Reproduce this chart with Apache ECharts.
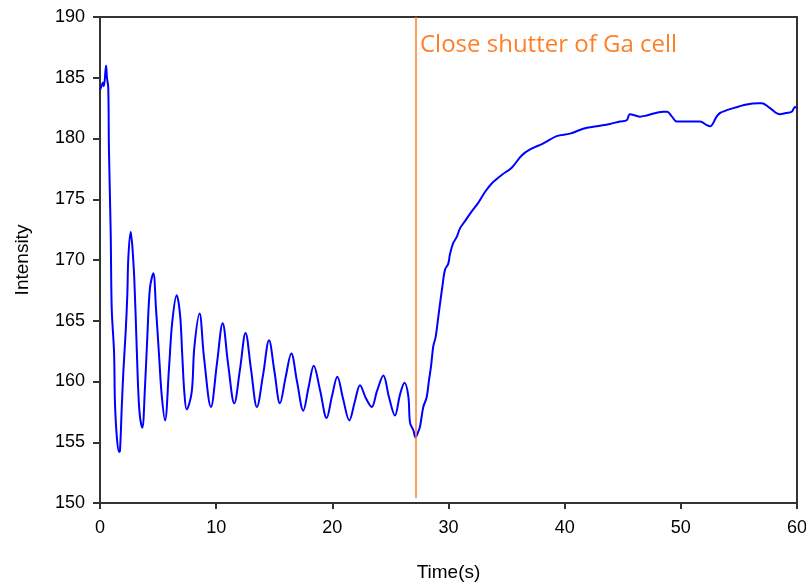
<!DOCTYPE html>
<html>
<head>
<meta charset="utf-8">
<script src="https://cdn.jsdelivr.net/npm/echarts@6/dist/echarts.min.js"></script>
<style>html,body{margin:0;padding:0;background:#fff}#c{width:806px;height:587px}</style>
</head>
<body>
<div id="c"></div>
<script>
const timeS = [0,0.09,0.26,0.34,0.52,0.60,0.71,0.77,0.92,1.01,1.21,1.29,1.46,1.64,1.72,1.87,2.01,2.21,2.35,2.44,2.64,2.71,2.78,2.95,3.16,3.30,3.44,3.64,3.87,4.07,4.30,4.59,4.82,5.08,5.31,5.60,5.94,6.22,6.60,6.89,7.08,7.26,7.46,7.89,8.12,8.57,8.95,9.55,10.07,10.56,11.02,11.56,12.05,12.53,13.00,13.51,14.03,14.55,15.02,15.49,15.97,16.47,16.96,17.50,17.95,18.40,18.94,19.51,19.97,20.43,20.92,21.46,21.95,22.38,22.90,23.39,23.84,24.39,24.88,25.39,25.82,26.21,26.54,26.69,26.97,27.16,27.37,27.55,27.83,28.12,28.32,28.49,28.69,28.90,29.12,29.27,29.47,29.70,29.98,30.13,30.41,30.71,30.99,31.42,32.00,32.56,33.14,33.72,34.58,35.44,36.30,37.02,38.16,39.31,40.46,41.60,42.76,43.90,44.76,45.34,45.62,46.48,47.06,48.49,48.81,49.24,49.64,50.79,51.65,52.23,52.51,53.08,53.37,54.52,55.67,56.67,56.99,57.67,58.53,59.05,59.54,59.83,60];
const intensity = [184.0,184.2,184.6,184.3,186.0,185.0,184.2,179.1,172.3,166.0,162.4,158.2,155.3,154.2,154.3,157.8,160.8,164.1,167.1,170.2,172.3,171.8,171.2,168.5,162.8,159.1,157.1,156.2,159.5,163.6,167.7,168.9,166.0,162.2,158.9,156.8,161.1,164.9,167.1,165.5,162.2,159.1,157.7,159.1,162.8,165.6,162.0,157.9,161.5,164.8,161.5,158.2,161.0,164.0,161.0,157.9,160.5,163.4,160.8,158.2,160.3,162.3,160.0,157.6,159.5,161.3,159.3,157.0,158.8,160.4,158.6,156.8,158.4,159.7,158.6,157.9,159.2,160.5,158.7,157.2,158.9,159.9,158.8,156.6,156.0,155.4,155.8,156.3,157.9,158.7,160.1,161.2,162.9,163.7,165.3,166.4,167.8,169.2,169.7,170.5,171.4,171.9,172.6,173.2,174.0,174.7,175.6,176.3,177.0,177.6,178.6,179.1,179.6,180.2,180.4,180.8,181.0,181.2,181.4,181.5,182.0,181.8,181.9,182.2,182.2,181.8,181.4,181.4,181.4,181.1,181.0,181.8,182.1,182.5,182.8,182.9,182.9,182.5,182.0,182.1,182.2,182.6,182.5];
const markerTime = 27.2;
const markerText = 'Close shutter of Ga cell';
const xTitle = 'Time(s)';
const yTitle = 'Intensity';

const chart = echarts.init(document.getElementById('c'), null, {renderer: 'canvas'});
const lineData = timeS.map((t, i) => [t, intensity[i]]);
const axisCol = '#333333';
const orange = '#FF7F27';
const tickFont = {fontFamily: 'Liberation Sans', fontSize: 18, color: '#000'};
chart.setOption({
  animation: false,
  backgroundColor: '#ffffff',
  grid: {left: 100, right: 9, top: 17, bottom: 84, containLabel: false, outerBoundsMode: 'none'},
  xAxis: [{
    type: 'value', min: 0, max: 60, interval: 10, position: 'bottom',
    name: xTitle, nameLocation: 'middle', nameGap: 60,
    nameTextStyle: {fontFamily: 'Liberation Sans', fontSize: 19, color: '#000'},
    axisLine: {show: true, onZero: false, lineStyle: {color: axisCol, width: 2}},
    axisTick: {show: true, inside: false, length: 6, lineStyle: {color: axisCol, width: 2}},
    axisLabel: Object.assign({margin: 16}, tickFont),
    splitLine: {show: false}
  }, {
    type: 'value', min: 0, max: 60, position: 'top',
    axisLine: {show: true, onZero: false, lineStyle: {color: axisCol, width: 2}},
    axisTick: {show: false}, axisLabel: {show: false}, splitLine: {show: false}
  }],
  yAxis: [{
    type: 'value', min: 150, max: 190, interval: 5, position: 'left',
    name: yTitle, nameLocation: 'middle', nameGap: 68, nameRotate: 90,
    nameTextStyle: {fontFamily: 'Liberation Sans', fontSize: 19, color: '#000'},
    axisLine: {show: true, onZero: false, lineStyle: {color: axisCol, width: 2}},
    axisTick: {show: true, inside: false, length: 7, lineStyle: {color: axisCol, width: 2}},
    axisLabel: Object.assign({margin: 15}, tickFont),
    splitLine: {show: false}
  }, {
    type: 'value', min: 150, max: 190, position: 'right',
    axisLine: {show: true, onZero: false, lineStyle: {color: axisCol, width: 2}},
    axisTick: {show: false}, axisLabel: {show: false}, splitLine: {show: false}
  }],
  series: [{
    type: 'line',
    data: lineData,
    showSymbol: false,
    symbol: 'none',
    smooth: 0.35,
    lineStyle: {color: '#0000FF', width: 2},
    z: 3,
    markLine: {
      silent: true, symbol: 'none',
      lineStyle: {color: orange, width: 1.5, type: 'solid'},
      label: {show: false},
      data: [[{coord: [markerTime, 190]}, {coord: [markerTime, 150.4]}]]
    },
    markPoint: {
      silent: true, symbol: 'circle', symbolSize: 0,
      data: [{coord: [markerTime, 187.7]}],
      label: {
        show: true, position: 'right', distance: 4, formatter: markerText,
        fontFamily: 'Open Sans', fontSize: 24, color: orange
      }
    }
  }]
});
</script>
</body>
</html>
